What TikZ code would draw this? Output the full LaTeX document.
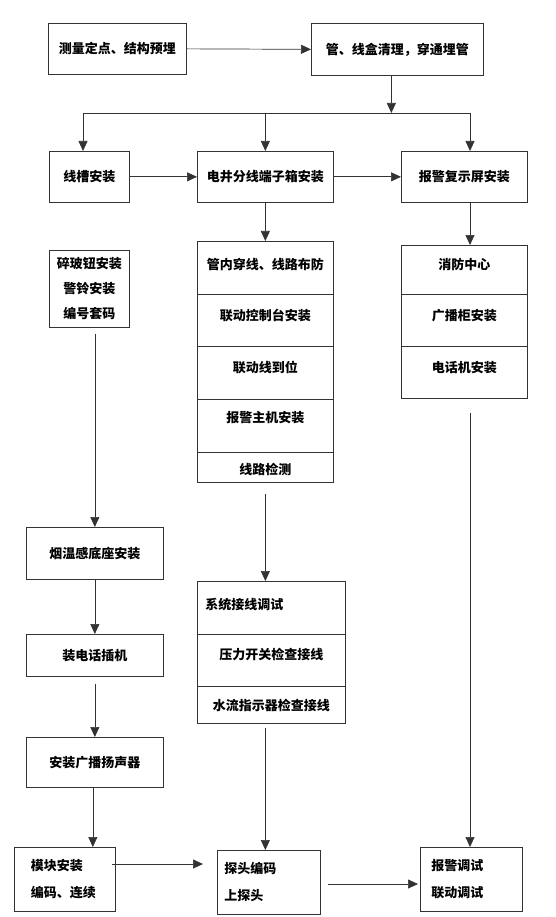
\documentclass[tikz,border=0pt]{standalone}
\usepackage{fontspec}
\newfontfamily\cjk{Noto Sans CJK SC}
\usetikzlibrary{arrows.meta}

\tikzset{
    box/.style={draw=black!80, line width=0.7pt, inner sep=0pt, anchor=north west, align=center,
        font=\cjk\bfseries\fontsize{13}{25}\selectfont},
    cell/.style 2 args={box, minimum width=#1, text height=#2},
    flow/.style={draw=black!80, line width=0.7pt, -{Triangle[length=10pt,width=9pt]}},
    link/.style={draw=black!80, line width=0.7pt},
}

\begin{document}
\begin{tikzpicture}[x=1pt,y=-1pt]
    \useasboundingbox[fill=white](0,0)rectangle(555,917);
    % top row
    \node[box, minimum width=138pt, minimum height=51pt](b1)at(48,23){测量定点、结构预埋};
    \node[box, minimum width=172pt, minimum height=52pt](b2)at(311,23){管、线盒清理，穿通埋管};
    % second row
    \node[box, minimum width=80pt, minimum height=51pt](c1)at(49,151){线槽安装};
    \node[box, minimum width=136pt, minimum height=51pt](c2)at(197,151){电井分线端子箱安装};
    \node[box, minimum width=126pt, minimum height=51pt](c3)at(401,151){报警复示屏安装};
    % left column
    \node[box, minimum width=80pt, minimum height=77pt](sui)at(49,250){碎玻钮安装\\警铃安装\\编号套码};
    \node[box, minimum width=137pt, minimum height=52pt](yan)at(26,527){烟温感底座安装};
    \node[box, minimum width=137pt, minimum height=42pt](dh)at(26,634){装电话插机};
    \node[box, minimum width=137pt, minimum height=50pt](gb)at(26,737){安装广播扬声器};
    % middle stack
    \node[cell={136pt}{28.5pt}, text depth=24.5pt](m1)at(197,241){管内穿线、线路布防};
    \node[cell={136pt}{26pt}, text depth=26pt](m2)at(197,294){联动控制台安装};
    \node[cell={136pt}{26pt}, text depth=27pt](m3)at(197,346){联动线到位};
    \node[cell={136pt}{23.5pt}, text depth=29.5pt](m4)at(197,399){报警主机安装};
    \node[cell={136pt}{22pt}, text depth=8pt](m5)at(197,452){线路检测};
    % right stack
    \node[cell={126pt}{24.5pt}, text depth=24.5pt](r1)at(401,245){消防中心};
    \node[cell={126pt}{26pt}, text depth=26pt](r2)at(401,294){广播柜安装};
    \node[cell={126pt}{26pt}, text depth=26pt](r3)at(401,346){电话机安装};
    % lower middle stack
    \node[cell={148pt}{28pt}, text depth=25pt, text width=132pt, align=left](s1)at(197,581){系统接线调试};
    \node[cell={148pt}{25pt}, text depth=27pt](s2)at(197,634){压力开关检查接线};
    \node[cell={148pt}{24pt}, text depth=13pt](s3)at(197,686){水流指示器检查接线};
    % bottom row
    \node[box, minimum width=101pt, minimum height=64pt, text width=68pt, align=left](mk)at(14,847){模块安装\\[2pt]编码、连续};
    \node[box, minimum width=103pt, minimum height=64pt, text width=89pt, align=left](tt)at(217,850){探头编码\\[2pt]上探头};
    \node[box, minimum width=102pt, minimum height=64pt, text width=80pt, align=left](bj)at(420,847){报警调试\\[2pt]联动调试};

    % branching
    \coordinate(busL)at(83,113);
    \coordinate(busR)at(470,113);
    \path[flow](b1.east)--(b2.west);
    \path[flow]([xshift=-6pt]b2.south)--([xshift=-6pt]b2.south |- busR);
    \path[link](busL)--(busR);
    \path[flow](busL)--(busL |- c1.north);
    \path[flow](busL -| c2.north)--(c2.north);
    \path[flow](busR)--(busR |- c3.north);
    \path[flow](c1.east)--(c2.west);
    \path[flow](c2.east)--(c3.west);
    \path[flow](c2.south)--(m1.north);
    \path[flow](c3.south -| busR)--(busR |- r1.north);
    % down the columns
    \path[flow, shorten <=6pt](sui.south -| yan.north)--(yan.north);
    \path[flow](yan.south)--(dh.north);
    \path[flow, shorten <=7pt](dh.south)--(gb.north);
    \path[flow]([xshift=-2pt]gb.south)--([xshift=-2pt]gb.south |- mk.north);
    \path[flow, shorten <=11pt](m5.south -| c2.south)--(s1.north -| c2.south);
    \path[flow, shorten <=4pt](s3.south -| c2.south)--(tt.north -| c2.south);
    \path[flow, shorten <=14pt](r3.south -| busR)--(bj.north -| busR);
    % bottom links
    \path[flow, shorten <=-4pt, shorten >=14pt](mk.east |- 0,864)--(tt.west |- 0,864);
    \path[flow, shorten <=7pt, shorten >=2pt](tt.east |- 0,884)--(bj.west |- 0,884);
\end{tikzpicture}
\end{document}
